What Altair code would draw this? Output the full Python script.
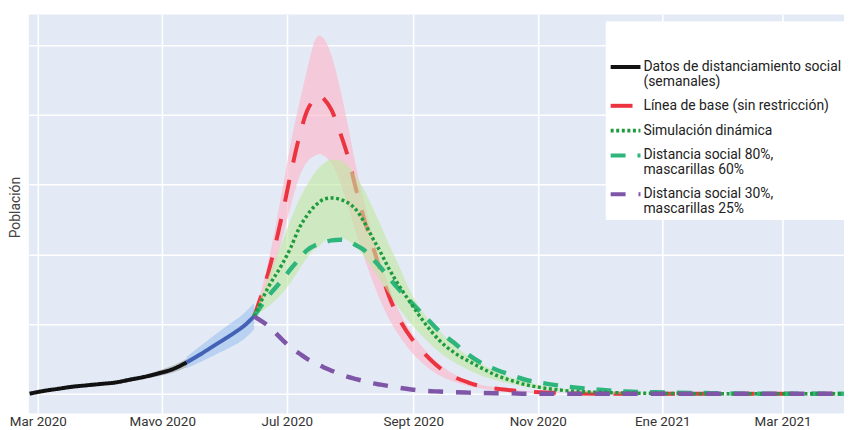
import altair as alt
import pandas as pd

# ---------------- data ----------------
series_names = [
    "Datos de distanciamiento social|(semanales)",
    "Línea de base (sin restricción)",
    "Simulación dinámica",
    "Distancia social 80%,|mascarillas 60%",
    "Distancia social 30%,|mascarillas 25%",
]
series_colors = ["#111111", "#ec3340", "#1f9a3c", "#2db57c", "#7f55a8"]
series_dashes = [[1, 0], [22, 18], [3, 2.6], [15, 12], [15, 13]]

# weekly observed data (black line)
obs_dates = ["2020-02-26", "2020-03-04", "2020-03-11", "2020-03-18", "2020-03-25", "2020-04-01",
             "2020-04-08", "2020-04-15", "2020-04-22", "2020-04-29", "2020-05-06", "2020-05-13"]
obs_vals = [0.0, 0.04, 0.07, 0.1, 0.12, 0.14, 0.16, 0.2, 0.24, 0.29, 0.35, 0.45]
obs_lo = [-0.02, 0.02, 0.05, 0.08, 0.1, 0.12, 0.14, 0.17, 0.21, 0.25, 0.3, 0.38]
obs_hi = [0.02, 0.06, 0.09, 0.12, 0.14, 0.16, 0.19, 0.23, 0.27, 0.33, 0.4, 0.5]

# blue segment
blue_dates = ["2020-05-13", "2020-05-20", "2020-05-27", "2020-06-03", "2020-06-10", "2020-06-15"]
blue_vals = [0.45, 0.57, 0.7, 0.83, 0.97, 1.11]
blue_lo = [0.37, 0.46, 0.56, 0.66, 0.78, 0.92]
blue_hi = [0.53, 0.69, 0.85, 1.0, 1.15, 1.3]

# simulations
sim_dates = ["2020-06-15", "2020-06-22", "2020-06-29", "2020-07-03", "2020-07-07", "2020-07-11",
             "2020-07-15", "2020-07-17", "2020-07-19", "2020-07-23", "2020-07-27", "2020-07-31",
             "2020-08-04", "2020-08-08", "2020-08-12", "2020-08-16", "2020-08-20", "2020-08-24",
             "2020-08-31", "2020-09-07", "2020-09-14", "2020-09-21", "2020-09-28", "2020-10-05",
             "2020-10-12", "2020-10-19", "2020-10-26", "2020-11-02", "2020-11-16", "2020-11-30",
             "2020-12-14", "2020-12-28", "2021-01-18", "2021-02-15", "2021-03-15", "2021-03-31"]
red_line = [1.11, 1.74, 2.6, 3.16, 3.67, 4.06, 4.24, 4.29, 4.24, 4.07, 3.76, 3.4,
            2.93, 2.5, 2.13, 1.76, 1.41, 1.14, 0.8, 0.56, 0.37, 0.24, 0.16, 0.1,
            0.07, 0.05, 0.03, 0.02, 0.01, 0, 0, 0, 0, 0, 0, 0]
red_hi = [1.11, 1.9, 2.95, 3.6, 4.15, 4.65, 5.08, 5.14, 5.1, 4.85, 4.4, 3.85,
          3.25, 2.75, 2.3, 1.9, 1.55, 1.25, 0.88, 0.62, 0.42, 0.28, 0.19, 0.12,
          0.09, 0.06, 0.04, 0.03, 0.01, 0.005, 0, 0, 0, 0, 0, 0]
red_lo = [1.1, 1.55, 2.25, 2.7, 3.1, 3.33, 3.42, 3.44, 3.42, 3.3, 3.05, 2.7,
          2.3, 1.95, 1.62, 1.33, 1.08, 0.88, 0.6, 0.4, 0.26, 0.17, 0.11, 0.07,
          0.05, 0.03, 0.02, 0.01, 0.005, 0, 0, 0, 0, 0, 0, 0]
dyn_line = [1.11, 1.53, 1.87, 2.1, 2.37, 2.56, 2.7, 2.75, 2.79, 2.81, 2.79, 2.74,
            2.64, 2.46, 2.24, 2.03, 1.8, 1.6, 1.29, 1.0, 0.76, 0.59, 0.47, 0.36,
            0.26, 0.19, 0.13, 0.09, 0.04, 0.02, 0.01, 0.005, 0, 0, 0, 0]
dyn_hi = [1.11, 1.68, 2.2, 2.5, 2.78, 3.0, 3.18, 3.25, 3.3, 3.36, 3.35, 3.27,
          3.12, 2.92, 2.68, 2.42, 2.15, 1.9, 1.44, 1.12, 0.9, 0.7, 0.54, 0.42,
          0.31, 0.23, 0.17, 0.12, 0.06, 0.03, 0.015, 0.005, 0, 0, 0, 0]
dyn_lo = [1.11, 1.25, 1.45, 1.6, 1.78, 1.95, 2.08, 2.12, 2.18, 2.23, 2.24, 2.2,
          2.1, 1.97, 1.8, 1.62, 1.44, 1.27, 1.0, 0.78, 0.59, 0.45, 0.34, 0.25,
          0.19, 0.14, 0.1, 0.07, 0.03, 0.01, 0, 0, 0, 0, 0, 0]
d80_line = [1.11, 1.4, 1.64, 1.79, 1.93, 2.06, 2.13, 2.15, 2.17, 2.2, 2.21, 2.19,
            2.13, 2.06, 1.94, 1.81, 1.67, 1.53, 1.31, 1.1, 0.89, 0.73, 0.56, 0.43,
            0.34, 0.27, 0.2, 0.16, 0.1, 0.06, 0.03, 0.02, 0.01, 0, 0, 0]
d30_line = [1.11, 0.97, 0.77, 0.66, 0.58, 0.5, 0.44, 0.41, 0.38, 0.33, 0.28, 0.24,
            0.21, 0.18, 0.15, 0.13, 0.11, 0.09, 0.06, 0.04, 0.03, 0.02, 0.015, 0.01,
            0.007, 0.005, 0, 0, 0, 0, 0, 0, 0, 0, 0, 0]

tick_dates = [(2020, 3), (2020, 5), (2020, 7), (2020, 9), (2020, 11), (2021, 1), (2021, 3)]
tick_labels = ["Mar 2020", "Mavo 2020", "Jul 2020", "Sept 2020", "Nov 2020", "Ene 2021", "Mar 2021"]
y_grid = [0, 1, 2, 3, 4, 5]

# ---------------- tables ----------------
obs_df = pd.DataFrame({"fecha": obs_dates, "valor": obs_vals, "lo": obs_lo, "hi": obs_hi,
                       "serie": series_names[0]})
blue_df = pd.DataFrame({"fecha": blue_dates, "valor": blue_vals, "lo": blue_lo, "hi": blue_hi})
band_df = pd.DataFrame({"fecha": sim_dates, "red_lo": red_lo, "red_hi": red_hi,
                        "dyn_lo": dyn_lo, "dyn_hi": dyn_hi})


def sim(name, vals):
    return pd.DataFrame({"fecha": sim_dates, "valor": vals, "serie": name})


red_df = sim(series_names[1], red_line)
dyn_df = sim(series_names[2], dyn_line)
d80_df = sim(series_names[3], d80_line)
d30_df = sim(series_names[4], d30_line)

# ---------------- encodings ----------------
FONT = "Roboto"
label_expr = " : ".join(
    f"(utcyear(datum.value) == {y} && utcmonth(datum.value) == {m - 1}) ? '{lab}'"
    for (y, m), lab in zip(tick_dates, tick_labels)
) + " : ''"

x_scale = alt.Scale(type="utc",
                    domain=[alt.DateTime(year=2020, month=2, date=25, hours=15, utc=True),
                            alt.DateTime(year=2021, month=3, date=31, hours=2, minutes=24, utc=True)])
x_axis = alt.Axis(values=[alt.DateTime(year=y, month=m, date=1, utc=True) for y, m in tick_dates],
                  labelExpr=label_expr, title=None, ticks=False, domain=False,
                  labelFont=FONT, labelFontSize=13.5, labelColor="#333333", labelPadding=1,
                  grid=True, gridColor="white", gridWidth=1.6, gridOpacity=1)
y_scale = alt.Scale(domain=[-0.286, 5.443], nice=False, zero=False)
y_axis = alt.Axis(values=y_grid, labels=False, ticks=False, domain=False,
                  grid=True, gridColor="white", gridWidth=1.6, gridOpacity=1,
                  title="Población", titleFont=FONT, titleFontSize=14, titleFontWeight="normal",
                  titleColor="#444444", titleAngle=-90, titleX=-13, titleY=194,
                  titleAlign="center", titleBaseline="middle")

X = alt.X("fecha:T", scale=x_scale, axis=x_axis)
Y = alt.Y("valor:Q", scale=y_scale, axis=y_axis)

legend_kw = dict(
    title=" ", orient="none", legendX=581, legendY=7,
    fillColor="white", padding=3, strokeColor="white",
    symbolType="stroke", symbolSize=900, symbolStrokeWidth=4, symbolOffset=0,
    labelFont=FONT, labelFontSize=14, labelColor="#222222",
    labelLimit=400, labelOffset=1, rowPadding=0,
    labelExpr="split(datum.label, '|')",
    titleFont=FONT, titleFontSize=14, titlePadding=12,
)
COLOR = alt.Color("serie:N", scale=alt.Scale(domain=series_names, range=series_colors),
                  legend=alt.Legend(**legend_kw))
DASH = alt.StrokeDash("serie:N", scale=alt.Scale(domain=series_names, range=series_dashes),
                      legend=alt.Legend(**legend_kw))


def band(df, lo, hi, color, opacity):
    return alt.Chart(df).mark_area(color=color, opacity=opacity, interpolate="monotone",
                                   clip=True).encode(
        x=X, y=alt.Y(f"{lo}:Q", scale=y_scale, axis=y_axis), y2=f"{hi}:Q")


def line(df, width):
    return alt.Chart(df).mark_line(strokeWidth=width, strokeCap="butt", interpolate="monotone",
                                   clip=True).encode(x=X, y=Y, color=COLOR, strokeDash=DASH)


obs_band = band(obs_df, "lo", "hi", "#8a8a8a", 0.45)
blue_band = band(blue_df, "lo", "hi", "#9cc2ee", 0.6)
red_band = band(band_df, "red_lo", "red_hi", "#ffb3c6", 0.6)
dyn_band = band(band_df, "dyn_lo", "dyn_hi", "#bfe89f", 0.6)

blue_line = alt.Chart(blue_df).mark_line(strokeWidth=4, color="#4362b6", interpolate="monotone",
                                         clip=True).encode(x=X, y=Y)

chart = alt.layer(
    obs_band, blue_band, red_band,
    line(red_df, 4),
    dyn_band,
    line(obs_df, 4),
    blue_line,
    line(d80_df, 4.5),
    line(dyn_df, 3.5),
    line(d30_df, 4.5),
).properties(
    width=821, height=402,
    background="white",
    autosize=alt.AutoSizeParams(type="none"),
    padding={"left": 21, "top": 5, "right": 0, "bottom": 14},
).configure(
    style={"guide-label": {"lineHeight": 15}}
).configure_view(
    fill="#e3eaf5", strokeWidth=0
)

chart.save("out.html", embed_options={"renderer": "svg", "actions": False})
